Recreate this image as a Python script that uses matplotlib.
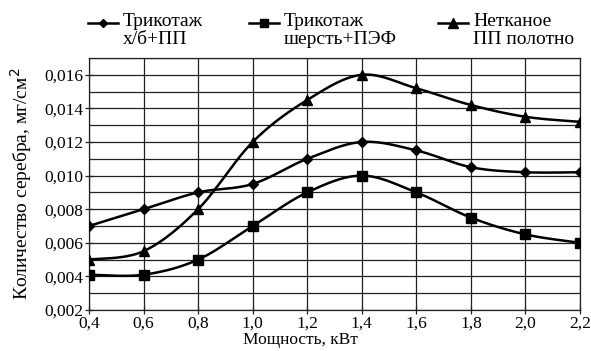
import numpy as np
import matplotlib
matplotlib.use("Agg")
import matplotlib.pyplot as plt
from matplotlib.lines import Line2D
from matplotlib.ticker import MultipleLocator, FuncFormatter

plt.rcParams['font.family'] = ['Liberation Serif', 'DejaVu Serif']

power = [0.4, 0.6, 0.8, 1.0, 1.2, 1.4, 1.6, 1.8, 2.0, 2.2]
knit_cotton = [0.0070, 0.0080, 0.0090, 0.0095, 0.0110, 0.0120, 0.0115, 0.0105, 0.0102, 0.0102]
knit_wool = [0.0041, 0.0041, 0.0050, 0.0070, 0.0090, 0.0100, 0.0090, 0.0075, 0.0065, 0.0060]
nonwoven = [0.0050, 0.0055, 0.0080, 0.0120, 0.0145, 0.0160, 0.0152, 0.0142, 0.0135, 0.0132]
labels = ['Трикотаж\nх/б+ПП', 'Трикотаж\nшерсть+ПЭФ', 'Нетканое\nПП полотно']
markers = ['D', 's', '^']
msizes = [5, 7, 7.5]


def smooth(x, y, n=30):
    x = np.asarray(x, float); y = np.asarray(y, float)
    P = np.column_stack([x, y])
    P = np.vstack([P[0], P, P[-1]])
    out = []
    t = np.linspace(0, 1, n)[:, None]
    for i in range(1, len(P) - 2):
        p0, p1, p2, p3 = P[i - 1], P[i], P[i + 1], P[i + 2]
        c = 0.5 * ((2 * p1) + (-p0 + p2) * t + (2 * p0 - 5 * p1 + 4 * p2 - p3) * t ** 2
                   + (-p0 + 3 * p1 - 3 * p2 + p3) * t ** 3)
        out.append(c if i == 1 else c[1:])
    out = np.vstack(out)
    return out[:, 0], out[:, 1]


fig = plt.figure(figsize=(5.91, 3.51), dpi=100)
ax = fig.add_axes([89 / 591, (351 - 310) / 351, (580 - 89) / 591, (310 - 58) / 351])

for data, m, ms in zip([knit_cotton, knit_wool, nonwoven], markers, msizes):
    sx, sy = smooth(power, data)
    ax.plot(sx, sy, color='black', lw=1.8, zorder=3)
    ax.plot(power, data, linestyle='none', marker=m, ms=ms, color='black', zorder=4)

ax.set_xlim(0.4, 2.2)
ax.set_ylim(0.002, 0.017)
ax.xaxis.set_major_locator(MultipleLocator(0.2))
ax.yaxis.set_major_locator(MultipleLocator(0.002))
ax.yaxis.set_minor_locator(MultipleLocator(0.001))
ax.xaxis.set_major_formatter(FuncFormatter(lambda v, p: f'{v:.1f}'.replace('.', ',')))
ax.yaxis.set_major_formatter(FuncFormatter(lambda v, p: f'{v:.3f}'.replace('.', ',')))
ax.grid(which='major', color='#202020', lw=0.9)
ax.grid(which='minor', axis='y', color='#202020', lw=0.9)
ax.tick_params(axis='both', which='major', labelsize=12.5, direction='inout', length=6, width=0.9,
               color='#202020', pad=1)
ax.tick_params(axis='y', which='minor', length=0)
for s in ax.spines.values():
    s.set_color('#202020')
    s.set_linewidth(0.9)

ax.set_xlabel('Мощность, кВт', fontsize=12.5)
ax.xaxis.set_label_coords((300 - 89) / 491, -(340 - 310) / 252)
ax.xaxis.label.set_va('center')
ax.set_ylabel('Количество серебра, мг/см$^2$', fontsize=14)
ax.yaxis.set_label_coords(-(89 - 21) / 491, 0.5)
ax.yaxis.label.set_va('center')

# legend above the plot
hx = [88, 249, 438]
for x0, lab, m, ms in zip(hx, labels, markers, msizes):
    y = 1 - 23 / 351
    ln = Line2D([x0 / 591, (x0 + 30) / 591], [y, y], transform=fig.transFigure,
                color='black', lw=1.8)
    fig.add_artist(ln)
    mk = Line2D([(x0 + 15) / 591], [y], transform=fig.transFigure, marker=m, ms=ms * 0.9,
                color='black', linestyle='none')
    fig.add_artist(mk)
    fig.text((x0 + 35) / 591, 1 - 13 / 351, lab, fontsize=14, va='top', ha='left',
             linespacing=1.05)

fig.savefig('out.png', dpi=100)
